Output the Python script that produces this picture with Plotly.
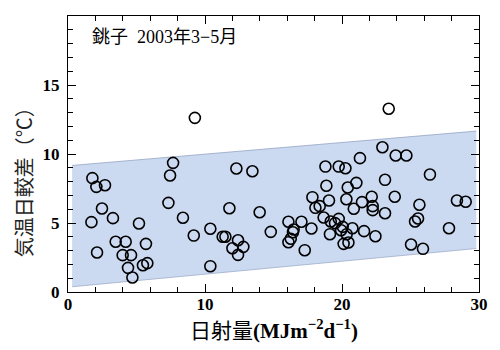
import plotly.graph_objects as go

# Scatter data: daily solar radiation (MJ m-2 d-1) vs diurnal temperature range (°C)
radiation = [
    9.26, 7.67, 7.45, 1.78, 2.07, 2.70, 12.29, 13.46, 2.48, 3.28,
    1.71, 5.18, 7.33, 8.39, 11.78, 13.99, 10.39, 9.18, 11.29, 11.49,
    14.80, 3.48, 4.21, 5.69, 12.41, 12.00, 12.80, 12.41, 2.12, 3.99,
    4.60, 4.38, 5.47, 5.79, 4.70, 10.39,
    23.41, 22.95, 23.92, 24.70, 21.31, 18.79, 19.76, 20.25, 26.42, 23.14,
    21.05, 18.86, 20.42, 17.84, 23.85, 19.05, 20.32, 22.17, 21.46, 28.39,
    29.03, 18.06, 18.37, 22.24, 22.24, 20.86, 25.65, 23.14, 18.66, 19.76,
    19.18, 19.49, 17.04, 16.09, 25.55, 25.33, 16.47, 16.42, 17.77, 20.05,
    19.93, 20.76, 21.61, 19.12, 20.34, 16.26, 16.09, 22.44, 20.12, 20.47,
    17.28, 25.04, 25.91, 27.81,
]
temp_range = [
    12.62, 9.36, 8.44, 8.25, 7.62, 7.74, 8.95, 8.75, 6.05, 5.35,
    5.06, 4.96, 6.46, 5.38, 6.07, 5.78, 4.58, 4.09, 4.00, 4.00,
    4.36, 3.64, 3.64, 3.49, 3.75, 3.17, 3.27, 2.69, 2.86, 2.67,
    2.67, 1.75, 1.94, 2.09, 1.05, 1.87,
    13.28, 10.49, 9.89, 9.89, 9.70, 9.09, 9.09, 8.97, 8.51, 8.13,
    7.91, 7.70, 7.57, 6.87, 6.90, 6.63, 6.72, 6.90, 6.51, 6.63,
    6.54, 6.10, 6.22, 6.22, 5.93, 6.03, 6.32, 5.71, 5.40, 5.30,
    5.11, 4.99, 5.09, 5.09, 5.33, 5.11, 4.53, 4.33, 4.60, 4.72,
    4.48, 4.62, 4.41, 4.19, 4.19, 3.86, 3.61, 4.04, 3.49, 3.59,
    3.03, 3.44, 3.13, 4.62,
]

# Shaded band (hand-drawn range)
band_x = [0.3, 29.8]
band_upper = [9.17, 11.66]
band_lower = [0.38, 3.15]

x_ticks = [0, 10, 20, 30]
y_ticks = [0, 5, 10, 15, 20]

fig = go.Figure()

fig.add_trace(go.Scatter(
    x=band_x, y=band_lower, mode="lines",
    line=dict(color="rgba(150,165,195,0.7)", width=1),
    hoverinfo="skip", showlegend=False,
))
fig.add_trace(go.Scatter(
    x=band_x, y=band_upper, mode="lines", fill="tonexty",
    fillcolor="rgb(203,217,241)",
    line=dict(color="rgba(150,165,195,0.8)", width=1),
    hoverinfo="skip", showlegend=False,
))
fig.add_trace(go.Scatter(
    x=radiation, y=temp_range, mode="markers",
    marker=dict(symbol="circle", size=11, color="rgba(0,0,0,0)",
                line=dict(color="black", width=1.6)),
    showlegend=False,
))

tickfont = dict(family="Liberation Serif", size=17, color="black", weight="bold")

# page body has an 8px default margin, so the figure is 492x342 placed at (8, 8)
fig.update_layout(
    width=492, height=342,
    margin=dict(l=60, r=21, t=8, b=58),
    paper_bgcolor="white", plot_bgcolor="white",
    xaxis=dict(
        range=[0, 30], tickvals=x_ticks, ticks="inside", ticklen=8, tickwidth=1,
        tickcolor="black", showline=True, linecolor="black", linewidth=1.2,
        mirror="ticks", showgrid=False, zeroline=False, tickfont=tickfont,
        ticklabelstandoff=-4, automargin=False,
        minor=dict(dtick=2, ticks="inside", ticklen=5, tickcolor="black", showgrid=False),
    ),
    yaxis=dict(
        range=[0, 20], tickvals=y_ticks, ticks="inside", ticklen=8, tickwidth=1,
        tickcolor="black", showline=True, linecolor="black", linewidth=1.2,
        mirror="ticks", showgrid=False, zeroline=False, tickfont=tickfont,
        ticklabelstandoff=4, automargin=False,
        minor=dict(dtick=1, ticks="inside", ticklen=5, tickcolor="black", showgrid=False),
    ),
    annotations=[
        dict(text="<span style='font-family:Noto Sans CJK JP'>日射量</span>"
                  "<b>(MJm<sup>−2</sup>d<sup>−1</sup>)</b>",
             xref="paper", yref="paper", x=0.5, y=-0.135,
             xanchor="center", yanchor="middle", showarrow=False,
             font=dict(family="Liberation Serif", size=21, color="black")),
        dict(text="気温日較差（℃）", textangle=-90, xref="paper", yref="paper",
             x=-0.108, y=0.414, xanchor="center", yanchor="middle", showarrow=False,
             font=dict(family="Noto Sans CJK JP", size=20, color="#222")),
        dict(text="銚子&nbsp;&nbsp;2003年3−5月", xref="paper", yref="paper",
             x=0.053, y=0.924, xanchor="left", yanchor="middle", showarrow=False,
             font=dict(family="Liberation Serif, Noto Sans CJK JP", size=18, color="black")),
    ],
)

fig.write_html("out.html")
